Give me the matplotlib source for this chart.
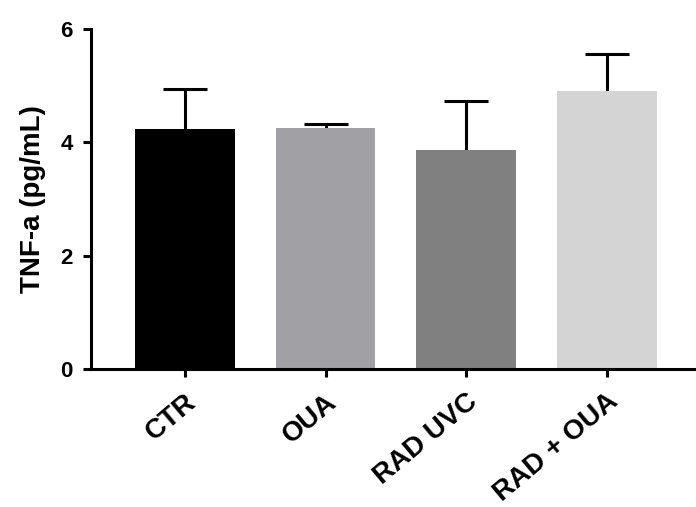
import numpy as np
import matplotlib.pyplot as plt

plt.rcParams['font.family'] = ['Liberation Sans', 'DejaVu Sans']
plt.rcParams['font.weight'] = 'bold'

groups = ['CTR', 'OUA', 'RAD UVC', 'RAD + OUA']
means = [4.23, 4.25, 3.86, 4.90]
sems = [0.70, 0.07, 0.86, 0.66]
colors = ['#000000', '#a1a0a5', '#808080', '#d4d4d4']

fig = plt.figure(figsize=(6.96, 5.07), dpi=100)
ax = fig.add_axes([0.1303, 0.2716, 0.877, 0.6718])

x = np.arange(len(groups))
ax.bar(x, means, width=0.71, color=colors, zorder=2)
# upper error bars only (mean + SEM)
_, caps, _ = ax.errorbar(x, means, yerr=[np.zeros(len(sems)), sems], fmt='none',
                         ecolor='black', elinewidth=2.2, capsize=16,
                         capthick=2.2, zorder=1)
caps[0].set_visible(False)

ax.set_xlim(-0.67, 3.67)
ax.set_ylim(0, 6)
ax.set_yticks([0, 2, 4, 6])
ax.set_xticks(x)
ax.set_xticklabels(groups, rotation=40, ha='right', rotation_mode='anchor')

for side in ['top', 'right']:
    ax.spines[side].set_visible(False)
for side in ['left', 'bottom']:
    ax.spines[side].set_linewidth(2.2)
ax.tick_params(width=2.2, length=6, direction='out')
ax.tick_params(axis='y', labelsize=16, pad=7)
ax.tick_params(axis='x', labelsize=20, pad=8)
ax.set_ylabel('TNF-a (pg/mL)', fontsize=20, fontweight='bold', labelpad=10)

fig.savefig('out.png', dpi=100)
